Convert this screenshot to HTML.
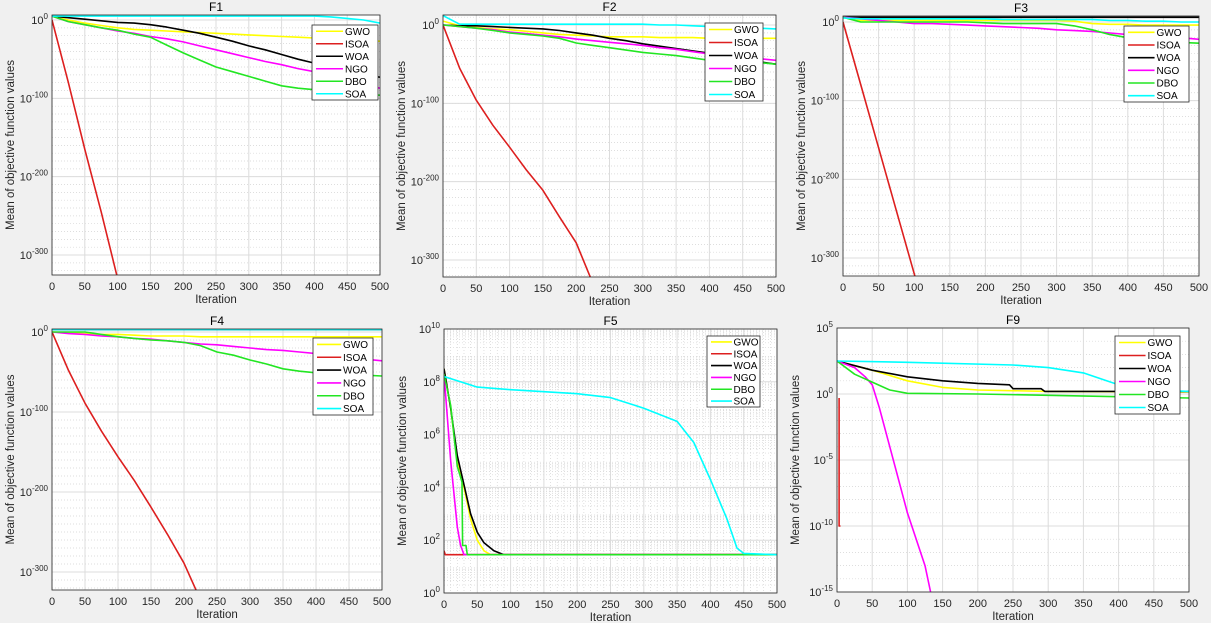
<!DOCTYPE html>
<html><head><meta charset="utf-8">
<style>
html,body{margin:0;padding:0;background:#f0f0f0;}
svg{display:block;font-family:"Liberation Sans",Arial,sans-serif;}
</style></head>
<body>
<svg id="fig" width="1211" height="623" viewBox="0 0 1211 623" xmlns="http://www.w3.org/2000/svg"></svg>
<script>
// ---------- DATA ----------
const seriesNames = ["GWO","ISOA","WOA","NGO","DBO","SOA"];
const seriesColors = ["#ffff00","#dd1f1f","#000000","#ff00ff","#22e622","#00ffff"];
const xTickLabels = [0,50,100,150,200,250,300,350,400,450,500];
const iters = [0,25,50,75,100,125,150,175,200,225,250,275,300,325,350,375,400,425,450,475,500];

// F1 (log10 of values)
const f1GWO  = [5,0,-4,-7,-10,-12,-13,-14,-15,-16,-17,-18,-19,-20,-21,-22,-23,-24,-25,-26,-27];
const f1ISOA = [0,-80,-165,-245,-330,-420,-420,-420,-420,-420,-420,-420,-420,-420,-420,-420,-420,-420,-420,-420,-420];
const f1WOA  = [5,3,1,-1,-3,-4,-6,-9,-13,-17,-22,-27,-33,-38,-44,-50,-55,-60,-65,-70,-73];
const f1NGO  = [5,-2,-6,-10,-14,-17,-21,-24,-28,-33,-38,-43,-48,-53,-57,-62,-66,-71,-76,-82,-87];
const f1DBO  = [5,-2,-6,-10,-13,-18,-22,-32,-42,-51,-60,-66,-72,-78,-84,-87,-89,-91,-93,-95,-96];
const f1SOA  = [5,5,5,5,5,5,5,5,5,5,5,5,5,5,5,5,5,4,2,0,-4];
// F2
const f2GWO  = [5,-1,-3,-5,-6,-8,-10,-12,-13,-14,-15,-15,-15,-16,-16,-16,-17,-17,-17,-17,-17];
const f2ISOA = [0,-55,-96,-128,-156,-185,-211,-245,-278,-330,-400,-400,-400,-400,-400,-400,-400,-400,-400,-400,-400];
const f2WOA  = [0,-1,-1,-2,-3,-4,-5,-7,-10,-13,-17,-20,-24,-27,-30,-33,-36,-40,-43,-47,-50];
const f2NGO  = [0,-2,-4,-6,-9,-11,-13,-15,-18,-20,-22,-24,-26,-29,-31,-34,-37,-39,-41,-43,-45];
const f2DBO  = [0,-2,-4,-7,-10,-12,-14,-17,-23,-26,-29,-32,-35,-37,-39,-42,-45,-46,-47,-48,-50];
const f2SOA  = [12,1,1,1,1,1,1,1,1,1,1,1,1,0,0,-1,-2,-3,-3,-4,-5];
// F3
const f3GWO  = [6,2,2,2,2,2,2,2,2,2,2,2,2,1,-2,-3,-3,-4,-4,-4,-4];
const f3ISOA = [0,-80,-160,-240,-320,-400,-400,-400,-400,-400,-400,-400,-400,-400,-400,-400,-400,-400,-400,-400,-400];
const f3WOA  = [6,6,6,6,6,6,6,6,6,6,6,6,6,6,6,6,6,6,6,6,6];
const f3NGO  = [6,4,2,0,-2,-2,-3,-4,-5,-6,-7,-8,-10,-11,-12,-14,-16,-17,-19,-20,-22];
const f3DBO  = [6,0,0,0,0,0,0,0,-1,-2,-2,-2,-2,-5,-10,-16,-20,-22,-24,-26,-27];
const f3SOA  = [5,4,4,4,4,4,4,4,4,3,3,3,3,3,3,2,2,1,1,0,0];
// F4
const f4GWO  = [0,-1,-2,-3,-3,-4,-5,-5,-5,-6,-6,-6,-6,-6,-6,-6,-6,-6,-6,-6,-6];
const f4ISOA = [0,-48,-89,-124,-156,-186,-219,-253,-289,-335,-400,-400,-400,-400,-400,-400,-400,-400,-400,-400,-400];
const f4WOA  = [3,3,3,3,3,3,3,3,3,3,3,3,3,3,3,3,3,3,3,3,3];
const f4NGO  = [0,-2,-3,-5,-6,-8,-9,-11,-13,-15,-16,-18,-20,-22,-23,-25,-27,-29,-31,-34,-36];
const f4DBO  = [0,0,0,-3,-6,-8,-10,-11,-13,-17,-25,-29,-35,-40,-46,-49,-51,-52,-53,-54,-55];
const f4SOA  = [3,3,3,3,3,3,3,3,3,3,3,3,3,3,3,3,3,3,3,3,3];
// F5
const f5GWOx  = [0,10,20,30,40,50,60,70,500];
const f5GWO   = [8.5,7,5,4,2.8,2,1.6,1.45,1.45];
const f5ISOAx = [0,2,500];
const f5ISOA  = [1.6,1.45,1.45];
const f5WOAx  = [0,10,20,30,40,50,60,75,90,500];
const f5WOA   = [8.5,7,5.2,4.1,3,2.3,1.9,1.6,1.45,1.45];
const f5NGOx  = [0,10,20,25,30,500];
const f5NGO   = [8.3,5,2.5,1.8,1.45,1.45];
const f5DBOx  = [0,10,20,27,28,33,35,500];
const f5DBO   = [8.3,7.1,4.8,4.2,1.8,1.8,1.45,1.45];
const f5SOAx  = [0,50,100,200,250,300,350,375,400,425,440,450,500];
const f5SOA   = [8.2,7.8,7.7,7.55,7.4,7.0,6.5,5.7,4.3,2.8,1.7,1.5,1.45];
// F9
const f9GWOx  = [0,50,100,150,200,300,500];
const f9GWO   = [2.5,1.8,1.0,0.5,0.3,0.2,0.15];
const f9ISOAx = [3,3,5];
const f9ISOA  = [-0.3,-10,-10];
const f9WOAx  = [0,50,100,150,200,245,250,290,295,500];
const f9WOA   = [2.5,1.8,1.3,1.0,0.8,0.7,0.4,0.4,0.2,0.2];
const f9NGOx  = [0,25,40,50,60,75,100,125,133];
const f9NGO   = [2.5,2.0,1.3,0.7,-1.0,-4,-9,-13,-15];
const f9DBOx  = [0,25,50,75,100,200,500];
const f9DBO   = [2.5,1.5,0.9,0.3,0.05,0,-0.3];
const f9SOAx  = [0,100,250,300,350,400,450,500];
const f9SOA   = [2.5,2.4,2.2,2.0,1.6,0.7,0.3,0.2];

// ---------- LAYOUT ----------
const panels = [
 {t:"F1",x0:52,x1:380,y0:15,y1:275,ymin:-325.5,ymax:6.4,ticks:[-300,-200,-100,0],minor:10,xmin:false,
  xs:[iters,iters,iters,iters,iters,iters],ys:[f1GWO,f1ISOA,f1WOA,f1NGO,f1DBO,f1SOA],lg:[312,25,66,75]},
 {t:"F2",x0:443,x1:776,y0:15,y1:277,ymin:-321.7,ymax:12.8,ticks:[-300,-200,-100,0],minor:10,xmin:false,
  xs:[iters,iters,iters,iters,iters,iters],ys:[f2GWO,f2ISOA,f2WOA,f2NGO,f2DBO,f2SOA],lg:[705,23,58,78]},
 {t:"F3",x0:843,x1:1199,y0:16,y1:276,ymin:-322.9,ymax:7.6,ticks:[-300,-200,-100,0],minor:10,xmin:false,
  xs:[iters,iters,iters,iters,iters,iters],ys:[f3GWO,f3ISOA,f3WOA,f3NGO,f3DBO,f3SOA],lg:[1124,26,65,76]},
 {t:"F4",x0:52,x1:382,y0:329,y1:590,ymin:-322.5,ymax:3.75,ticks:[-300,-200,-100,0],minor:10,xmin:false,
  xs:[iters,iters,iters,iters,iters,iters],ys:[f4GWO,f4ISOA,f4WOA,f4NGO,f4DBO,f4SOA],lg:[313,338,60,77]},
 {t:"F5",x0:444,x1:777,y0:329,y1:593,ymin:0,ymax:10,ticks:[0,2,4,6,8,10],minor:"log",xmin:true,
  xs:[f5GWOx,f5ISOAx,f5WOAx,f5NGOx,f5DBOx,f5SOAx],ys:[f5GWO,f5ISOA,f5WOA,f5NGO,f5DBO,f5SOA],lg:[707,336,53,71]},
 {t:"F9",x0:837,x1:1189,y0:328,y1:592,ymin:-15,ymax:5,ticks:[-15,-10,-5,0,5],minor:1,xmin:false,
  xs:[f9GWOx,f9ISOAx,f9WOAx,f9NGOx,f9DBOx,f9SOAx],ys:[f9GWO,f9ISOA,f9WOA,f9NGO,f9DBO,f9SOA],lg:[1115,336,65,78]}
];

const NS="http://www.w3.org/2000/svg";
const svg=document.getElementById("fig");
function mk(tag,attrs,parent){const e=document.createElementNS(NS,tag);for(const k in attrs)e.setAttribute(k,attrs[k]);(parent||svg).appendChild(e);return e;}

panels.forEach((p,pi)=>{
  const g=mk("g",{});
  
  
  const sx=v=>p.x0+(v/500)*(p.x1-p.x0);
  const sy=v=>p.y1-(v-p.ymin)/(p.ymax-p.ymin)*(p.y1-p.y0);
  const bg=mk("rect",{x:p.x0,y:p.y0,width:p.x1-p.x0,height:p.y1-p.y0,fill:"#fff"},g);
  
  
  // minor grids
  const mg=mk("g",{stroke:"#d4d4d4","stroke-width":0.7,"stroke-dasharray":"1,2"},g);
  if(p.minor==="log"){
    for(let d=p.ymin;d<p.ymax;d++)for(let m=2;m<10;m++){const y=sy(d+Math.log10(m));mk("line",{x1:p.x0,x2:p.x1,y1:y,y2:y},mg);}
  } else {
    for(let d=Math.ceil(p.ymin/p.minor)*p.minor;d<=p.ymax;d+=p.minor){const y=sy(d);mk("line",{x1:p.x0,x2:p.x1,y1:y,y2:y},mg);}
  }
  if(p.xmin){for(let v=10;v<500;v+=10){if(v%50===0)continue;const x=sx(v);mk("line",{x1:x,x2:x,y1:p.y0,y2:p.y1},mg);}}
  // major grids
  const gg=mk("g",{stroke:"#dcdcdc","stroke-width":1},g);
  xTickLabels.forEach(v=>{const x=sx(v);mk("line",{x1:x,x2:x,y1:p.y0,y2:p.y1},gg);});
  p.ticks.forEach(v=>{const y=sy(v);mk("line",{x1:p.x0,x2:p.x1,y1:y,y2:y},gg);});
  // series
  const cid="clip"+pi;
  const cp=mk("clipPath",{id:cid},g);mk("rect",{x:p.x0,y:p.y0,width:p.x1-p.x0,height:p.y1-p.y0},cp);
  const lg=mk("g",{"clip-path":"url(#"+cid+")"},g);
  seriesNames.forEach((n,si)=>{
    const xs=p.xs[si],ys=p.ys[si];
    const d=xs.map((x,i)=>(i?"L":"M")+sx(x).toFixed(1)+","+sy(ys[i]).toFixed(1)).join("");
    const path=mk("path",{d:d,fill:"none",stroke:seriesColors[si],"stroke-width":1.6,"stroke-linejoin":"round"},lg);
    
    
  });
  // axes box
  mk("rect",{x:p.x0,y:p.y0,width:p.x1-p.x0,height:p.y1-p.y0,fill:"none",stroke:"#262626","stroke-width":0.8},g);
  // x ticks
  xTickLabels.forEach(v=>{
    const t=mk("text",{x:sx(v),y:p.y1+15,"font-size":11,"text-anchor":"middle",fill:"#262626"},g);
    t.textContent=v;
    
    
  });
  // y ticks
  p.ticks.forEach(v=>{
    const y=sy(v);
    const t=mk("text",{x:p.x0-4,y:y+4,"font-size":11,"text-anchor":"end",fill:"#262626"},g);
    
    
    const a=mk("tspan",{},t);a.textContent="10";
    const b=mk("tspan",{dy:-5,"font-size":8},t);b.textContent=String(v).replace("-","-");
  });
  // title
  const tt=mk("text",{x:(p.x0+p.x1)/2,y:p.y0-4,"font-size":12,"text-anchor":"middle",fill:"#000"},g);
  tt.textContent=p.t;
  
  
  const xl=mk("text",{x:(p.x0+p.x1)/2,y:p.y1+28,"font-size":11.5,"text-anchor":"middle",fill:"#262626"},g);
  xl.textContent="Iteration";
  
  
  const cy=(p.y0+p.y1)/2, cx=p.x0-38;
  const yl=mk("text",{x:cx,y:cy,"font-size":11.5,"text-anchor":"middle",fill:"#262626",transform:"rotate(-90 "+cx+" "+cy+")"},g);
  yl.textContent="Mean of objective function values";
  
  
  // legend
  const [lx,ly,lw,lh]=p.lg;
  const leg=mk("g",{},g);
  
  
  mk("rect",{x:lx,y:ly,width:lw,height:lh,fill:"#fff",stroke:"#262626","stroke-width":0.8},leg);
  const rh=lh/6;
  seriesNames.forEach((n,si)=>{
    const yy=ly+rh*(si+0.5);
    const e=mk("g",{},leg);
    
    
    mk("line",{x1:lx+4,x2:lx+lw*0.47,y1:yy,y2:yy,stroke:seriesColors[si],"stroke-width":1.6},e);
    const t=mk("text",{x:lx+lw*0.5,y:yy+3.5,"font-size":10,fill:"#000"},e);
    t.textContent=n;
  });
});
</script>
</body></html>
